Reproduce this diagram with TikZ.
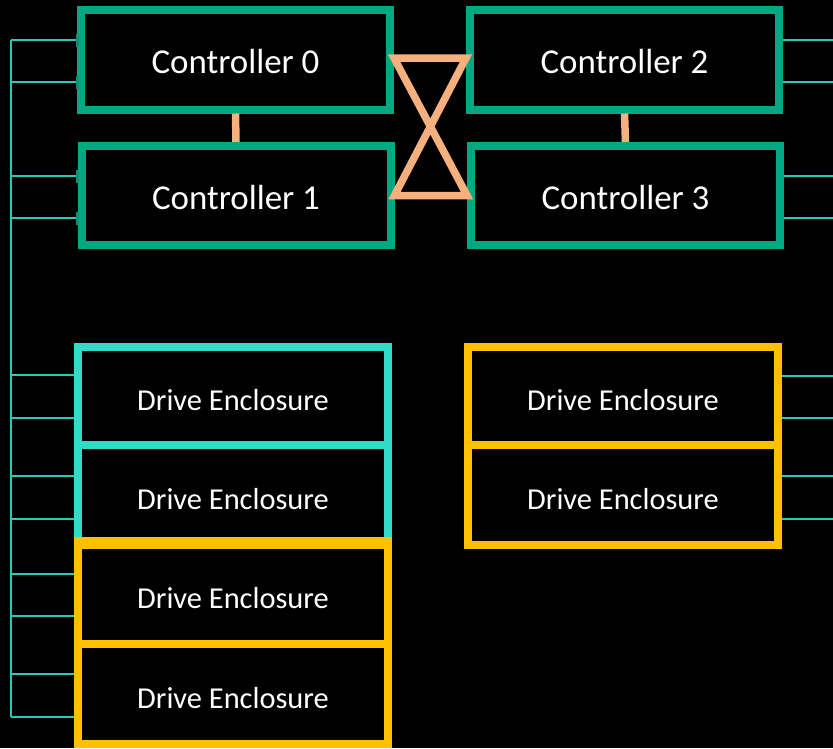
\documentclass[tikz,border=0pt]{standalone}
\usepackage{fontspec}
\setmainfont{Carlito}
\definecolor{hpegreen}{HTML}{01A982}
\definecolor{hpecyan}{HTML}{32DAC8}
\definecolor{hpeyellow}{HTML}{FFC000}
\definecolor{hpeorange}{HTML}{F5B07E}
\definecolor{wire}{HTML}{2AC9B8}
\definecolor{port}{HTML}{0E8F70}
\newcommand{\ctrltext}[1]{\raisebox{-2.5pt}[\height][\depth]{#1}}
\newcommand{\drvtext}[1]{\raisebox{-4pt}[\height][\depth]{#1}}
\begin{document}
\begin{tikzpicture}[x=1pt,y=-1pt,
  ctrl/.style={draw=hpegreen,line width=8pt,fill=black,minimum width=309pt,minimum height=100pt,inner sep=0pt,text=white,font=\fontsize{34.9}{38}\selectfont},
  cyanbox/.style={draw=hpecyan,line width=8pt,fill=black,minimum width=310pt,minimum height=98pt,inner sep=0pt,text=white,font=\fontsize{30.4}{33}\selectfont},
  yelbox/.style={cyanbox,draw=hpeyellow},
  wireline/.style={draw=wire,line width=1.3pt},
  link/.style={draw=hpeorange,line width=7.5pt},
  portstub/.style={fill=port,minimum width=3pt,minimum height=13pt,inner sep=0pt}]
\fill[black] (0,0) rectangle (833,748);
\useasboundingbox (0,0) rectangle (833,748);
% bus coordinates
\coordinate (busTop) at (11,40);
\coordinate (busBot) at (11,717);
\draw[wireline] (busTop) -- (busBot);
% left wires
\foreach \y/\xe in {40/77,82/77,176/77,218/77,375/76,418/76,476/76,519/76,574/76,616/76,674/76,717/76}{
  \draw[wireline] (11,\y) -- (\xe,\y);
}
% right wires
\foreach \y in {40,82,176,218,376,418,476,519}{
  \draw[wireline] (782,\y) -- (833,\y);
}
% controllers
\node[ctrl] (c0) at (235.5,59.5) {\ctrltext{Controller 0}};
\node[ctrl,minimum height=99pt] (c1) at (236,195.5) {\ctrltext{Controller 1}};
\node[ctrl] (c2) at (624.5,59.5) {\ctrltext{Controller 2}};
\node[ctrl,minimum height=99pt] (c3) at (625.5,195.5) {\ctrltext{Controller 3}};
% port stubs
\foreach \y in {40,82,176,218}{
  \node[portstub] at (77,\y) {};
}
% drive enclosures
\node[cyanbox] (d1) at (233,396) {\drvtext{Drive Enclosure}};
\node[cyanbox,minimum height=100pt] (d2) at (233,495) {\drvtext{Drive Enclosure}};
\node[yelbox,minimum height=99pt] (d3) at (233,594.5) {\drvtext{Drive Enclosure}};
\node[yelbox,minimum height=100pt] (d4) at (233,694) {\drvtext{Drive Enclosure}};
\node[yelbox] (d5) at (623,396) {\drvtext{Drive Enclosure}};
\node[yelbox,minimum height=100pt] (d6) at (623,495) {\drvtext{Drive Enclosure}};
\draw[hpeyellow,line width=8pt] (d3.north west) -- (d3.north east);
% orange links
\draw[link] (c0.south) -- (c1.north);
\draw[link] (c2.south) -- (c3.north);
\draw[link,line join=miter] ([yshift=1.5pt]c0.east) -- ([yshift=1.5pt]c2.west) -- (c1.east) -- (c3.west) -- cycle;
\end{tikzpicture}
\end{document}
